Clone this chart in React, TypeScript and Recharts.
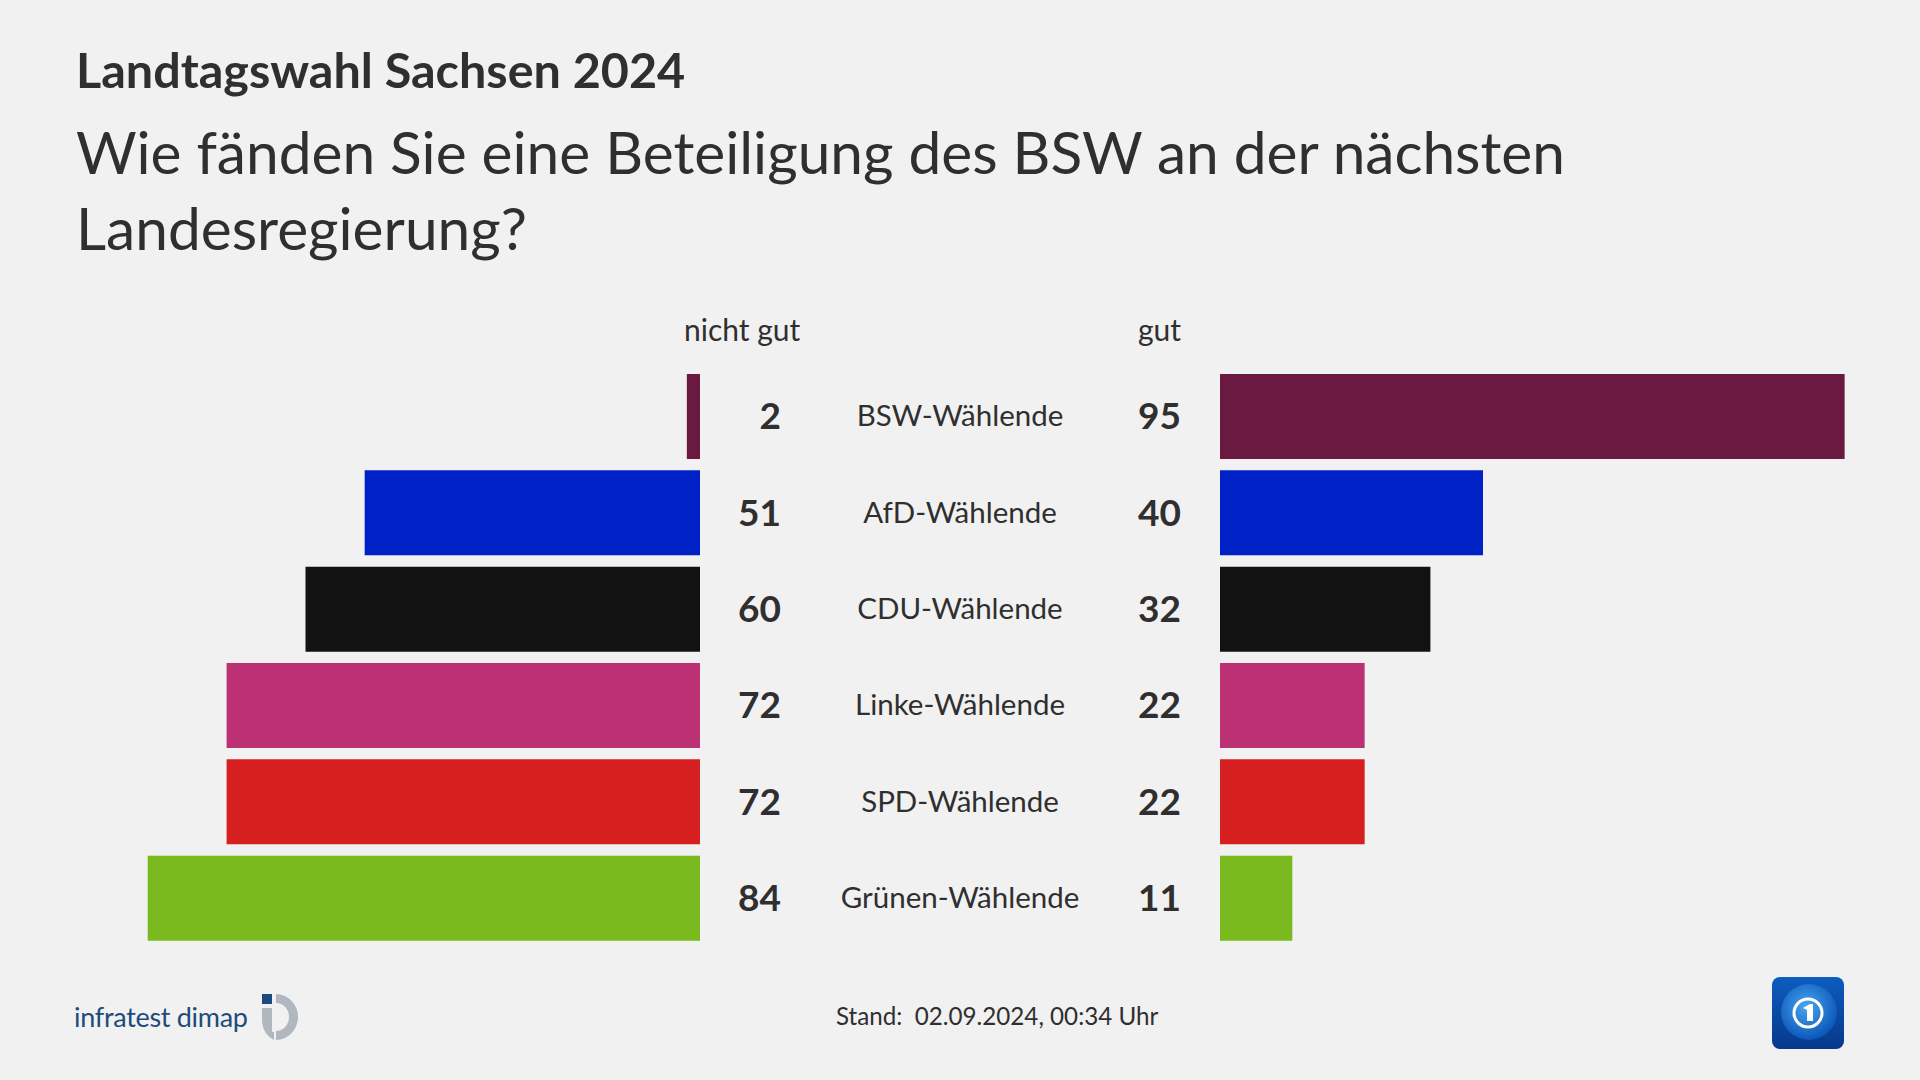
import { BarChart, Bar, XAxis, YAxis, Cell } from 'recharts';

const groups = [
  'BSW-Wählende',
  'AfD-Wählende',
  'CDU-Wählende',
  'Linke-Wählende',
  'SPD-Wählende',
  'Grünen-Wählende',
];
const nichtGut = [2, 51, 60, 72, 72, 84];
const gut = [95, 40, 32, 22, 22, 11];
const partyColors = ['#6a1a40', '#0021c5', '#121212', '#bc3074', '#d61f1f', '#7aba1e'];

const data = groups.map((group, i) => ({ group, nichtGut: nichtGut[i], gut: gut[i] }));

const FONT = 'Lato, "Noto Sans", sans-serif';
const TEXT = '#2f2f2f';

function RowTick(props: any) {
  const { x, y, payload, index } = props;
  const i = typeof index === 'number' ? index : groups.indexOf(payload.value);
  return (
    <g fontFamily={FONT} fill={TEXT}>
      <text x={x + 81} y={y + 13} textAnchor="end" fontSize={37} fontWeight={700}>
        {nichtGut[i]}
      </text>
      <text x={x + 260} y={y + 10} textAnchor="middle" fontSize={29.5}>
        {payload.value}
      </text>
      <text x={x + 481} y={y + 13} textAnchor="end" fontSize={37} fontWeight={700}>
        {gut[i]}
      </text>
    </g>
  );
}

function InfratestLogo() {
  return (
    <div style={{ position: 'absolute', left: 74, top: 992, display: 'flex', alignItems: 'center' }}>
      <span
        style={{
          fontFamily: FONT,
          fontSize: 27,
          color: '#1c4c7c',
          letterSpacing: -0.3,
          lineHeight: '34px',
        }}
      >
        infratest dimap
      </span>
      <svg width={48} height={50} style={{ marginLeft: 12 }}>
        <rect x={2} y={2} width={10} height={10} fill="#1b4a80" />
        <path
          d="M16 2 A 22 23 0 0 1 16 48 L16 39 A 13 14 0 0 0 16 11 Z"
          fill="#b0b7bf"
        />
        <path d="M2 16 L12 16 L12 40 A 13 14 0 0 0 14 40 L14 48 A 22 23 0 0 1 2 30 Z" fill="#b0b7bf" />
      </svg>
    </div>
  );
}

function ArdLogo() {
  return (
    <svg width={72} height={72} style={{ position: 'absolute', left: 1772, top: 977 }}>
      <defs>
        <linearGradient id="ardbg" x1="0" y1="0" x2="0" y2="1">
          <stop offset="0" stopColor="#0d5cc0" />
          <stop offset="1" stopColor="#06398a" />
        </linearGradient>
        <radialGradient id="globe" cx="0.45" cy="0.4" r="0.6">
          <stop offset="0" stopColor="#49a6f0" />
          <stop offset="1" stopColor="#0b56b8" />
        </radialGradient>
      </defs>
      <rect x={0} y={0} width={72} height={72} rx={8} fill="url(#ardbg)" />
      <circle cx={37} cy={35} r={28} fill="url(#globe)" />
      <circle cx={36} cy={36} r={14} fill="none" stroke="#ffffff" strokeWidth={3} />
      <path d="M31 31 L38 27 L41 27 L41 44 L35 44 L35 33 Z" fill="#ffffff" />
    </svg>
  );
}

export default function App() {
  return (
    <div
      style={{
        position: 'relative',
        width: 1920,
        height: 1080,
        background: '#f1f1f1',
        overflow: 'hidden',
        fontFamily: FONT,
        color: TEXT,
      }}
    >
      <style>{'body{margin:0}'}</style>
      <div
        style={{
          position: 'absolute',
          left: 76,
          top: 40,
          fontSize: 48.5,
          fontWeight: 700,
          lineHeight: 1.2,
          whiteSpace: 'nowrap',
        }}
      >
        Landtagswahl Sachsen 2024
      </div>
      <div
        style={{
          position: 'absolute',
          left: 76,
          top: 113,
          fontSize: 58.6,
          lineHeight: '76px',
          width: 1700,
        }}
      >
        Wie fänden Sie eine Beteiligung des BSW an der nächsten
        <br />
        Landesregierung?
      </div>

      <div style={{ position: 'absolute', left: 684, top: 311, fontSize: 30, lineHeight: 1.2 }}>
        nicht gut
      </div>
      <div style={{ position: 'absolute', left: 1138, top: 311, fontSize: 30, lineHeight: 1.2 }}>
        gut
      </div>

      {/* nicht gut: bars grow leftwards from x=700; the axis on the right carries the row texts */}
      <div style={{ position: 'absolute', left: 0, top: 368 }}>
        <BarChart
          width={1220}
          height={578}
          data={data}
          layout="vertical"
          margin={{ top: 0, right: 0, bottom: 0, left: 42.5 }}
        >
          <XAxis type="number" domain={[0, 100]} reversed hide />
          <YAxis
            type="category"
            dataKey="group"
            orientation="right"
            width={520}
            axisLine={false}
            tickLine={false}
            tickSize={0}
            tickMargin={0}
            interval={0}
            tick={<RowTick />}
          />
          <Bar dataKey="nichtGut" barSize={85} isAnimationActive={false}>
            {data.map((d, i) => (
              <Cell key={d.group} fill={partyColors[i]} />
            ))}
          </Bar>
        </BarChart>
      </div>

      {/* gut */}
      <div style={{ position: 'absolute', left: 1220, top: 368 }}>
        <BarChart
          width={657.5}
          height={578}
          data={data}
          layout="vertical"
          margin={{ top: 0, right: 0, bottom: 0, left: 0 }}
        >
          <XAxis type="number" domain={[0, 100]} hide />
          <YAxis type="category" dataKey="group" hide />
          <Bar dataKey="gut" barSize={85} isAnimationActive={false}>
            {data.map((d, i) => (
              <Cell key={d.group} fill={partyColors[i]} />
            ))}
          </Bar>
        </BarChart>
      </div>

      <InfratestLogo />
      <div
        style={{
          position: 'absolute',
          left: 836,
          top: 1001,
          fontSize: 24.2,
          lineHeight: 1.2,
          whiteSpace: 'pre',
        }}
      >
        {'Stand:  02.09.2024, 00:34 Uhr'}
      </div>
      <ArdLogo />
    </div>
  );
}
